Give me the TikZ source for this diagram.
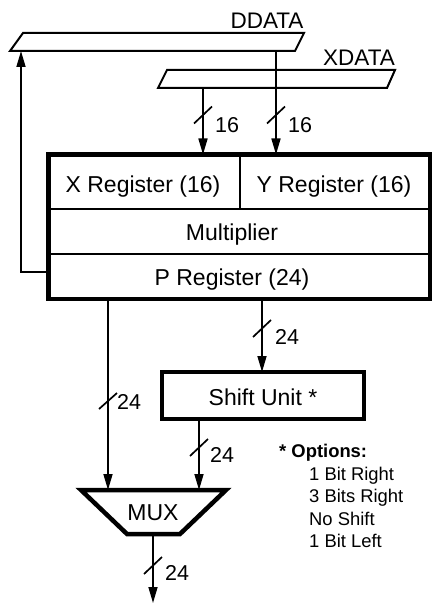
\documentclass[tikz,border=0pt]{standalone}
\usepackage{fontspec}
\setmainfont{Liberation Sans}
\usetikzlibrary{arrows.meta}
\tikzset{
  main/.style={font=\fontsize{23}{27}\selectfont, inner sep=0pt},
  bw/.style={font=\fontsize{21.5}{25}\selectfont, inner sep=0pt, anchor=west},
  opt/.style={font=\fontsize{18.4}{22}\selectfont, inner sep=0pt, anchor=west},
  wire/.style={line width=1.6pt, -{Triangle[length=16pt,width=9pt]}},
  slashmark/.style={line width=1.7pt},
  thick box/.style={line width=4.5pt},
  thin box/.style={line width=2pt},
  bus/.style={line width=2pt, line join=miter}
}
\begin{document}
\begin{tikzpicture}[x=1pt,y=-1pt]
\useasboundingbox (0,0) rectangle (433,604);
% buses
\draw[bus] (23,33) -- (304,33) -- (295,51) -- (10,51) -- cycle;
\draw[bus] (167,70) -- (395,70) -- (387,88) -- (158,88) -- cycle;
\node[main, font=\fontsize{22.5}{26}\selectfont] (dlab) at (267,21) {DDATA};
\node[main, font=\fontsize{22.5}{26}\selectfont] (xlab) at (359,58) {XDATA};
\coordinate (dout) at (276,51);
\coordinate (xout) at (203,88);
% register block
\draw[thin box] (48.5,209) -- (430,209);
\draw[thin box] (48.5,254) -- (430,254);
\draw[thin box] (240,154.5) -- (240,209);
\draw[thick box] (48.5,154.5) rectangle (430,299);
\coordinate (xin) at (203,154.5);
\coordinate (yin) at (276,154.5);
\node[main] (xreg) at (143,187) {X Register (16)};
\node[main] (yreg) at (334,187) {Y Register (16)};
\node[main] (mult) at (232,235) {Multiplier};
\node[main] (preg) at (232,280) {P Register (24)};
% inputs
\draw[wire] (xout) -- (xin);
\draw[wire] (dout) -- (yin);
\draw[slashmark] (194,123.5) -- (212,106.5);
\draw[slashmark] (267,123.5) -- (285,106.5);
\node[bw] (l16a) at (215,125) {16};
\node[bw] (l16b) at (288,125) {16};
% feedback
\coordinate (fbs) at (48.5,272);
\coordinate (fbc) at (21,272);
\coordinate (fbe) at (21,51);
\draw[wire] (fbs) -- (fbc) -- (fbe);
% shift unit
\draw[thick box] (162,372) rectangle (364,419);
\node[main] (shift) at (263,397) {Shift Unit *};
\coordinate (pout1) at (108,299);
\coordinate (pout2) at (262,299);
\coordinate (sin) at (262,372);
\draw[wire] (pout2) -- (sin);
\draw[slashmark] (253,337) -- (271,320);
\node[bw] (l24a) at (275,337) {24};
% mux
\draw[thick box, line join=miter] (81,490) -- (226,490) -- (180,534) -- (127,534) -- cycle;
\node[main] (mux) at (153,513) {MUX};
\coordinate (muxa) at (108,490);
\coordinate (muxb) at (199,490);
\draw[wire] (pout1) -- (muxa);
\draw[slashmark] (99,409) -- (117,393);
\node[bw] (l24b) at (117,402) {24};
\coordinate (sout) at (199,419);
\draw[wire] (sout) -- (muxb);
\draw[slashmark] (190,456) -- (208,439);
\node[bw] (l24c) at (210,455) {24};
\coordinate (mout) at (153,534);
\coordinate (fin) at (153,603);
\draw[wire] (mout) -- (fin);
\draw[slashmark] (144,574) -- (162,557);
\node[bw] (l24d) at (165,573) {24};
% options
\node[opt, font=\fontsize{18.4}{22}\selectfont\bfseries] (ohead) at (279,453) {* Options:};
\node[opt] (o1) at (309,476) {1 Bit Right};
\node[opt] (o2) at (309,498) {3 Bits Right};
\node[opt] (o3) at (309,519) {No Shift};
\node[opt] (o4) at (309,541) {1 Bit Left};
\end{tikzpicture}
\end{document}
